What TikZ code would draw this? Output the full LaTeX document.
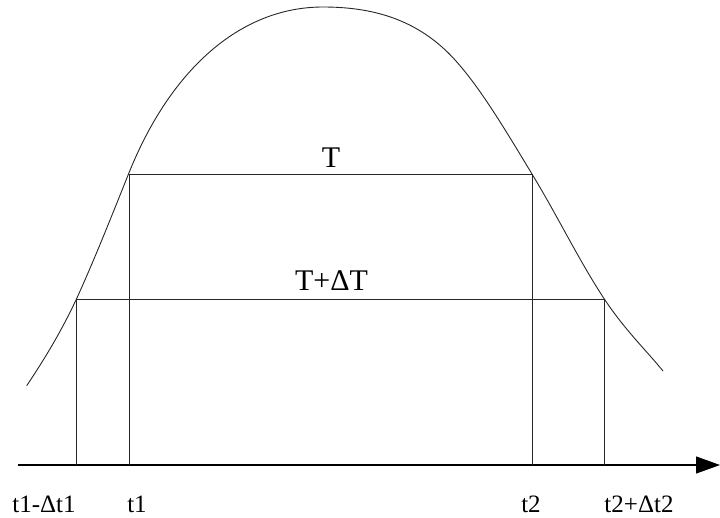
\documentclass[tikz,border=0pt]{standalone}
\usepackage{fontspec}
\setmainfont{Liberation Serif}
\usetikzlibrary{arrows.meta}
\begin{document}
\begin{tikzpicture}[x=1pt,y=-1pt,
  thinline/.style={line width=0.9pt,black!85},
  biglabel/.style={font=\fontsize{30}{30}\selectfont,anchor=base,inner sep=0pt},
  ticklabel/.style={font=\fontsize{25}{25}\selectfont,anchor=base,inner sep=0pt}]
\useasboundingbox (0,0) rectangle (720,517);
% axis
\coordinate (a0) at (18,465);
\coordinate (a1) at (720,465);
\draw[line width=1.2pt,-{Triangle[length=24pt,width=17pt]}] (a0) -- (a1);
% rectangles
\draw[thinline] (129,465) -- (129,174) -- (532,174) -- (532,465);
\draw[thinline] (76,465) -- (76,299) -- (604,299) -- (604,465);
% bell curve
\draw[thinline] (26.7,385.7)
  .. controls (42.7,361.7) and (60,334) .. (76,300)
  .. controls (93,263) and (111.5,216.5) .. (128.5,174)
  .. controls (170,70) and (240,7) .. (323,7)
  .. controls (368,7) and (408,17) .. (442,47)
  .. controls (472,73.5) and (502,124.5) .. (532,174)
  .. controls (557,215) and (580,262.5) .. (605,300)
  .. controls (625,330) and (645,349) .. (663,371);
% labels
\node[biglabel] (lT) at (331,167.5) {T};
\node[biglabel] (lTd) at (331.5,290) {T+ΔT};
\node[ticklabel] (l1) at (44,512) {t1-Δt1};
\node[ticklabel] (l2) at (137,512) {t1};
\node[ticklabel] (l3) at (531,512) {t2};
\node[ticklabel] (l4) at (639,512) {t2+Δt2};
\end{tikzpicture}
\end{document}
